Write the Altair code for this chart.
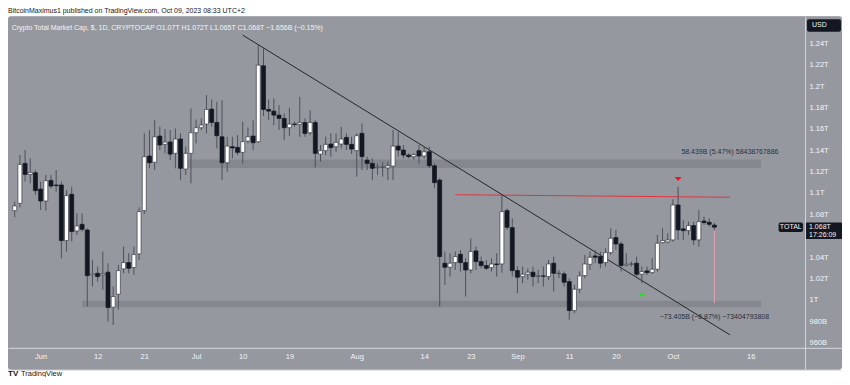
import altair as alt
import pandas as pd

FONT = "Liberation Sans"

# ---------------- data (values in billions of USD) ----------------
dates = [d.strftime("%Y-%m-%d") for d in pd.date_range("2023-05-27", "2023-10-09", freq="D")]

opens = [1083.5, 1090.3, 1127.7, 1117.4, 1119.0, 1103.7, 1092.5, 1111.8, 1107.5, 1107.5,
         1055.5, 1098.8, 1064.5, 1070.7, 1065.4, 1023.4, 1024.9, 1023.4, 1025.9, 993.1,
         1005.3, 1029.0, 1034.9, 1030.2, 1043.0, 1083.5, 1134.6, 1128.7, 1153.3, 1145.5,
         1147.7, 1137.1, 1150.5, 1122.4, 1137.1, 1156.4, 1161.1, 1164.5, 1178.5, 1166.0,
         1152.6, 1128.3, 1143.3, 1142.7, 1138.0, 1148.6, 1153.3, 1148.0, 1219.0, 1178.2,
         1176.6, 1172.9, 1169.8, 1161.1, 1164.5, 1164.2, 1166.0, 1156.4, 1166.0, 1136.4,
         1139.6, 1145.8, 1143.3, 1145.8, 1152.0, 1145.5, 1139.6, 1155.8, 1130.8, 1127.7,
         1123.7, 1124.0, 1123.4, 1125.2, 1143.9, 1140.2, 1135.5, 1134.0, 1139.6, 1134.6,
         1138.6, 1125.5, 1112.1, 1034.3, 1030.5, 1034.9, 1042.7, 1034.9, 1028.0, 1045.8,
         1035.8, 1032.1, 1030.2, 1033.6, 1033.6, 1083.5, 1067.6, 1027.4, 1021.8, 1024.0,
         1025.9, 1022.1, 1022.4, 1021.8, 1034.3, 1024.6, 1024.3, 1017.1, 990.0, 1010.0,
         1022.7, 1033.3, 1041.1, 1040.5, 1034.9, 1044.2, 1058.3, 1052.3, 1032.4, 1033.3,
         1034.3, 1024.0, 1027.1, 1025.5, 1028.7, 1053.6, 1054.2, 1056.1, 1088.8, 1066.4,
         1064.8, 1069.5, 1056.1, 1073.8, 1072.6, 1070.0]
highs = [1091.9, 1135.5, 1140.2, 1132.4, 1121.5, 1110.6, 1116.8, 1116.8, 1121.5, 1110.6,
         1102.8, 1105.9, 1081.0, 1081.0, 1067.0, 1037.4, 1031.2, 1045.2, 1034.3, 1012.5,
         1032.7, 1049.8, 1043.6, 1049.8, 1086.6, 1155.8, 1158.9, 1168.2, 1162.0, 1160.0,
         1158.9, 1160.4, 1155.8, 1143.3, 1179.1, 1168.8, 1169.8, 1191.6, 1187.5, 1185.4,
         1186.9, 1152.6, 1152.6, 1154.2, 1166.7, 1161.4, 1168.2, 1238.3, 1235.2, 1187.5,
         1188.5, 1182.2, 1174.5, 1179.8, 1166.7, 1190.0, 1169.8, 1177.6, 1168.2, 1144.9,
         1152.6, 1155.8, 1155.8, 1162.0, 1155.8, 1152.6, 1155.8, 1165.1, 1134.0, 1132.4,
         1127.7, 1129.3, 1129.3, 1158.9, 1157.3, 1144.9, 1137.1, 1137.1, 1144.9, 1143.3,
         1143.3, 1127.7, 1113.7, 1045.2, 1043.6, 1045.2, 1046.7, 1038.9, 1057.6, 1049.8,
         1040.5, 1037.4, 1038.9, 1043.6, 1098.1, 1085.7, 1076.3, 1031.2, 1031.2, 1029.6,
         1031.2, 1028.0, 1031.2, 1037.4, 1040.5, 1028.0, 1026.5, 1020.2, 1014.0, 1026.5,
         1042.1, 1045.2, 1046.7, 1045.2, 1048.3, 1067.0, 1065.4, 1054.5, 1043.6, 1035.8,
         1040.5, 1031.2, 1031.2, 1038.9, 1060.7, 1067.0, 1062.3, 1094.1, 1105.9, 1074.8,
         1073.2, 1073.2, 1084.1, 1077.9, 1076.3, 1072.0]
lows = [1077.3, 1086.6, 1110.6, 1109.0, 1098.1, 1084.1, 1083.5, 1104.4, 1101.2, 1038.9,
        1045.2, 1054.5, 1060.7, 1063.9, 993.8, 1012.5, 1017.1, 1009.3, 979.8, 976.6,
        990.7, 1024.9, 1024.9, 1023.4, 1037.4, 1080.4, 1123.1, 1121.5, 1140.2, 1137.1,
        1130.8, 1123.1, 1112.1, 1116.8, 1109.0, 1146.4, 1158.9, 1155.8, 1162.0, 1141.7,
        1112.1, 1119.9, 1132.4, 1135.5, 1127.7, 1146.4, 1140.2, 1147.0, 1172.0, 1168.2,
        1163.6, 1158.9, 1149.5, 1153.3, 1162.0, 1152.6, 1152.6, 1154.2, 1124.0, 1129.3,
        1135.5, 1134.0, 1138.6, 1141.7, 1140.2, 1136.4, 1115.3, 1121.5, 1121.5, 1112.1,
        1116.8, 1115.3, 1112.1, 1112.1, 1134.0, 1132.4, 1132.4, 1131.0, 1127.7, 1132.4,
        1123.1, 1104.4, 993.8, 1014.0, 1021.8, 1028.0, 1026.5, 1003.1, 1024.9, 1028.0,
        1029.6, 1028.0, 1026.5, 1021.8, 1025.5, 1065.4, 1021.8, 1006.2, 1015.6, 1018.7,
        1012.5, 1015.6, 1012.5, 1018.7, 1007.8, 1020.2, 1012.5, 981.3, 987.5, 1006.2,
        1020.2, 1028.0, 1034.3, 1029.6, 1031.2, 1042.1, 1046.7, 1026.5, 1031.2, 1031.2,
        1021.8, 1015.6, 1023.4, 1024.3, 1026.5, 1053.0, 1053.0, 1054.5, 1056.1, 1056.1,
        1060.7, 1051.4, 1049.8, 1070.1, 1068.5, 1065.0]
closes = [1087.9, 1126.8, 1117.4, 1119.3, 1102.2, 1092.5, 1111.5, 1106.5, 1106.9, 1055.5,
          1097.5, 1063.9, 1069.2, 1066.0, 1022.7, 1024.3, 1021.8, 1024.6, 992.8, 1003.1,
          1027.4, 1034.9, 1029.6, 1042.4, 1082.6, 1134.0, 1128.3, 1152.6, 1144.9, 1147.7,
          1136.4, 1150.5, 1123.1, 1137.1, 1156.4, 1161.1, 1163.6, 1178.2, 1166.0, 1153.6,
          1128.3, 1143.9, 1142.1, 1138.0, 1148.0, 1152.6, 1147.0, 1219.6, 1178.2, 1176.6,
          1172.9, 1169.8, 1161.1, 1164.5, 1164.2, 1166.0, 1155.8, 1166.0, 1137.1, 1139.6,
          1145.5, 1142.4, 1147.4, 1150.5, 1145.5, 1141.1, 1153.6, 1134.0, 1127.7, 1123.1,
          1124.3, 1124.3, 1125.5, 1143.9, 1140.2, 1135.5, 1134.0, 1136.0, 1134.6, 1138.6,
          1125.5, 1109.7, 1040.5, 1030.5, 1034.3, 1040.5, 1034.9, 1028.0, 1045.2, 1035.8,
          1032.1, 1029.6, 1033.6, 1033.0, 1082.6, 1067.9, 1027.4, 1021.2, 1024.0, 1025.9,
          1021.8, 1022.4, 1022.1, 1033.6, 1024.9, 1024.9, 1016.5, 990.0, 1010.0, 1022.4,
          1033.6, 1039.9, 1039.9, 1034.3, 1044.2, 1057.6, 1052.3, 1032.1, 1033.3, 1033.6,
          1024.0, 1026.5, 1025.5, 1028.7, 1053.0, 1055.5, 1056.1, 1088.8, 1065.4, 1064.8,
          1069.5, 1056.1, 1073.2, 1072.3, 1070.7, 1068.0]

# horizontal zones (support / resistance)
zone_start = ["2023-06-29", "2023-06-09"]
zone_end = ["2023-10-18", "2023-10-18"]
zone_low = [1123.4, 993.2]
zone_high = [1131.3, 999.1]

# descending trend line and red resistance line
trend_dates = ["2023-07-10", "2023-10-12"]
trend_vals = [1247.7, 967.3]
resist_dates = ["2023-08-20", "2023-10-12"]
resist_vals = [1098.4, 1096.0]

# price-range measurement
measure_date = "2023-10-09"
measure_top = 1068.5
measure_bottom = 996.9
measure_texts = ["58.439B (5.47%) 58438767886", "\u221273.405B (\u22126.87%) \u221273404793808"]
measure_text_dates = ["2023-10-12", "2023-10-09"]
measure_text_vals = [1138.6, 983.8]

# arrow markers
arrow_dates = ["2023-10-02", "2023-09-25"]
arrow_vals = [1113.1, 1005.3]
arrow_kind = ["down", "up"]

# axis ticks
x_tick_dates = ["2023-06-01", "2023-06-12", "2023-06-21", "2023-07-01", "2023-07-10",
                "2023-07-19", "2023-08-01", "2023-08-14", "2023-08-23", "2023-09-01",
                "2023-09-11", "2023-09-20", "2023-10-01", "2023-10-16"]
x_tick_labels = ["Jun", "12", "21", "Jul", "10", "19", "Aug", "14", "23", "Sep",
                 "11", "20", "Oct", "16"]
y_ticks = [960, 980, 1000, 1020, 1040, 1080, 1100, 1120, 1140, 1160, 1180, 1200, 1220, 1240]

# ---------------- helpers ----------------
ORIGIN = pd.Timestamp("2023-06-01")


def day(s):
    return (pd.Timestamp(s) - ORIGIN).days


candles = pd.DataFrame({
    "day": [day(d) for d in dates],
    "date": dates,
    "open": opens, "high": highs, "low": lows, "close": closes,
})

zones = pd.DataFrame({"s": [day(d) for d in zone_start], "e": [day(d) for d in zone_end],
                      "lo": zone_low, "hi": zone_high})
trend = pd.DataFrame({"x": [day(trend_dates[0])], "x2": [day(trend_dates[1])],
                      "y": [trend_vals[0]], "y2": [trend_vals[1]]})
resist = pd.DataFrame({"x": [day(resist_dates[0])], "x2": [day(resist_dates[1])],
                       "y": [resist_vals[0]], "y2": [resist_vals[1]]})
measure = pd.DataFrame({"x": [day(measure_date)], "y": [measure_top], "y2": [measure_bottom]})
mtexts = pd.DataFrame({"x": [day(d) for d in measure_text_dates], "y": measure_text_vals,
                       "t": measure_texts})
arrows = pd.DataFrame({"x": [day(d) for d in arrow_dates], "y": arrow_vals, "k": arrow_kind})

x_tick_days = [day(d) for d in x_tick_dates]
label_expr = " : ".join(
    [f"datum.value == {d} ? '{l}'" for d, l in zip(x_tick_days, x_tick_labels)]) + " : ''"

X_DOMAIN = [-5.331, 153.66]
Y_DOMAIN = [934.58, 1265.42]
xs = alt.Scale(domain=X_DOMAIN, nice=False, zero=False)
ys = alt.Scale(domain=Y_DOMAIN, nice=False, zero=False)

BG = "#96989f"
AX_COL = "#d5d7dc"
LBL_COL = "#f4f5f8"
xaxis = alt.Axis(values=x_tick_days, labelExpr=label_expr, orient="bottom", offset=-22,
                 ticks=False, tickSize=0, grid=False, domainColor=AX_COL, domainWidth=1,
                 labelColor=LBL_COL, labelFontSize=7.5, labelFont=FONT, labelPadding=5,
                 labelOverlap=False, labelFlush=False, title=None, zindex=1)
yaxis = alt.Axis(values=y_ticks,
                 labelExpr="datum.value >= 1000 ? format(datum.value / 1000, '.3~f') + 'T' : format(datum.value, 'd') + 'B'",
                 orient="right", offset=-37, ticks=False, tickSize=0, grid=False,
                 domainColor=AX_COL, domainWidth=1, labelColor=LBL_COL, labelFontSize=7.5,
                 labelFont=FONT, labelPadding=4, labelAlign="left", labelBaseline="middle",
                 labelOverlap=False, labelFlush=False, title=None, zindex=1)


def X(f):
    return alt.X(f, type="quantitative", scale=xs, axis=xaxis)


def Y(f):
    return alt.Y(f, type="quantitative", scale=ys, axis=yaxis)


one = pd.DataFrame({"k": [0]})


def label(txt, px, py, size=7.0, color=LBL_COL, align="left", baseline="middle", weight="normal"):
    return alt.Chart(one).mark_text(text=txt, align=align, baseline=baseline, fontSize=size,
                                    color=color, font=FONT, fontWeight=weight).encode(
        x=alt.value(px), y=alt.value(py))


def box(x1, x2, y1, y2, color="#131722", radius=2):
    return alt.Chart(one).mark_rect(color=color, cornerRadius=radius).encode(
        x=alt.value(x1), x2=alt.value(x2), y=alt.value(y1), y2=alt.value(y2))


# ---------------- layers ----------------
frame_layer = box(0, 835, 0, 354, color=BG, radius=3)

zone_layer = alt.Chart(zones).mark_rect(color="#85878e").encode(
    x=X("s"), x2="e", y=Y("lo"), y2="hi")

resist_layer = alt.Chart(resist).mark_rule(color="#e0363c", strokeWidth=1).encode(
    x=X("x"), x2="x2", y=Y("y"), y2="y2")

trend_layer = alt.Chart(trend).mark_rule(color="#23262f", strokeWidth=1).encode(
    x=X("x"), x2="x2", y=Y("y"), y2="y2")

measure_layer = alt.Chart(measure).mark_rule(color="#e3a3b0", strokeWidth=1).encode(
    x=X("x"), y=Y("y"), y2="y2")

wick_layer = alt.Chart(candles).mark_rule(color="#4d505a", strokeWidth=1).encode(
    x=X("day"), y=Y("low"), y2="high")

up = "datum.close >= datum.open"
body_layer = alt.Chart(candles).mark_bar(size=4, strokeWidth=0.7).encode(
    x=X("day"), y=Y("open"), y2="close",
    color=alt.condition(up, alt.value("#ffffff"), alt.value("#131722")),
    stroke=alt.condition(up, alt.value("#3a3d47"), alt.value("#131722")))

arrow_layer = alt.Chart(arrows).mark_point(filled=True, size=49, opacity=1).encode(
    x=X("x"), y=Y("y"),
    shape=alt.Shape("k:N", scale=alt.Scale(domain=["down", "up"],
                                           range=["M-1,-0.6L1,-0.6L0,0.6Z", "M-1,0.6L1,0.6L0,-0.6Z"]),
                    legend=None),
    color=alt.Color("k:N", scale=alt.Scale(domain=["down", "up"], range=["#f2121c", "#1fe61f"]),
                    legend=None))

mtext_layer = alt.Chart(mtexts).mark_text(fontSize=7, color="#2a2e39", font=FONT,
                                          align="center", baseline="middle").encode(
    x=X("x"), y=Y("y"), text="t:N")

chrome = [
    label("BitcoinMaximus1 published on TradingView.com, Oct 09, 2023 08:33 UTC+2", 0, -3.5,
          size=7, color="#131722", baseline="alphabetic"),
    label("Crypto Total Market Cap, $, 1D, CRYPTOCAP   O1.07T   H1.072T   L1.065T   C1.068T   "
          "\u22121.656B (\u22120.15%)", 3.7, 12, size=7),
    box(800, 834, 3, 15.5),
    label("USD", 805, 9.3, size=7),
    box(771.5, 796, 206.5, 216),
    label("TOTAL", 783.75, 211.3, size=7, align="center"),
    box(798.5, 835, 206.5, 223, radius=1),
    label("1.068T", 802, 211.3, size=7),
    label("17:26:09", 802, 218.8, size=7),
    label("TV", 0, 358, size=8, color="#131722", weight="bold"),
    label("TradingView", 13, 358, size=7.5, color="#131722"),
]

chart = alt.layer(
    frame_layer, zone_layer, resist_layer, trend_layer, measure_layer, wick_layer, body_layer,
    arrow_layer, mtext_layer, *chrome
).properties(
    width=835, height=354,
    padding={"left": 0, "top": 8, "right": 0, "bottom": 7},
    autosize=alt.AutoSizeParams(type="none"),
    background="#ffffff",
).configure_view(
    strokeWidth=0
).configure(font=FONT)

chart.save("out.html", embed_options={"renderer": "svg", "actions": False})
